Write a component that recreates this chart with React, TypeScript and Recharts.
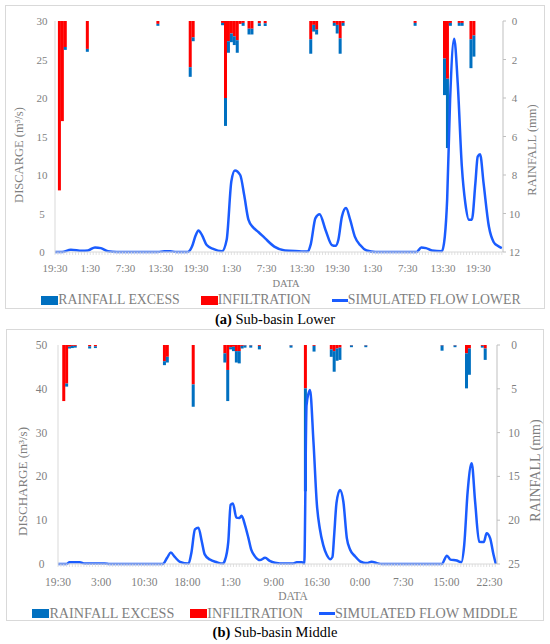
import React from 'react';
import { ComposedChart, Bar, Line, XAxis, YAxis, Legend } from 'recharts';

const FONT = '"Palatino Linotype", "Book Antiqua", Palatino, "Liberation Serif", serif';
const TEXT_GRAY = '#7f7f7f';
const AXIS_GRAY = '#d9d9d9';
const RED = '#ff0000';
const BAR_BLUE = '#0070c0';
const LINE_BLUE = '#1a5cff';

// time is in hours after 19:30 of the first day
const lowerTimeLabels = ['19:30', '1:30', '7:30', '13:30', '19:30', '1:30', '7:30', '13:30', '19:30', '1:30', '7:30', '13:30', '19:30'];
const lowerQTicks = [0, 5, 10, 15, 20, 25, 30];
const lowerRTicks = [0, 2, 4, 6, 8, 10, 12];

const lowerFlow = [
  { t: 0, q: 0 }, { t: 1.2, q: 0 }, { t: 2.7, q: 0.3 }, { t: 4.6, q: 0.15 }, { t: 5.6, q: 0.2 },
  { t: 6.8, q: 0.6 }, { t: 7.8, q: 0.5 }, { t: 9, q: 0.1 }, { t: 10.5, q: 0 }, { t: 17.5, q: 0 },
  { t: 18.6, q: 0.1 }, { t: 19.6, q: 0.1 }, { t: 20.6, q: 0 }, { t: 22.6, q: 0 }, { t: 23.3, q: 0.7 },
  { t: 23.9, q: 2.1 }, { t: 24.4, q: 2.8 }, { t: 25.0, q: 2.2 }, { t: 25.8, q: 0.9 }, { t: 26.9, q: 0.4 },
  { t: 28.4, q: 0.1 }, { t: 29.2, q: 1.6 }, { t: 30.0, q: 9.2 }, { t: 30.6, q: 10.6 }, { t: 31.5, q: 10.0 },
  { t: 32.2, q: 7.3 }, { t: 32.9, q: 4.2 }, { t: 33.7, q: 3.2 }, { t: 34.6, q: 2.6 }, { t: 35.7, q: 1.8 },
  { t: 37.3, q: 0.7 }, { t: 39.1, q: 0.2 }, { t: 41.5, q: 0.1 }, { t: 43.0, q: 0.05 }, { t: 43.5, q: 1.0 },
  { t: 44.3, q: 4.4 }, { t: 45.0, q: 4.9 }, { t: 46.0, q: 2.9 }, { t: 47.1, q: 0.9 }, { t: 47.7, q: 0.8 },
  { t: 48.2, q: 1.6 }, { t: 48.8, q: 4.6 }, { t: 49.5, q: 5.7 }, { t: 50.2, q: 4.2 }, { t: 51.0, q: 2.0 },
  { t: 51.9, q: 0.9 }, { t: 53.0, q: 0.2 }, { t: 54.5, q: 0 }, { t: 61.5, q: 0 }, { t: 62.3, q: 0.6 },
  { t: 63.1, q: 0.5 }, { t: 64.1, q: 0.2 }, { t: 65.8, q: 0.1 }, { t: 66.3, q: 2.0 }, { t: 66.7, q: 6.8 },
  { t: 67.2, q: 19.7 }, { t: 67.9, q: 27.7 }, { t: 68.5, q: 21.9 }, { t: 69.2, q: 11.1 }, { t: 69.8, q: 6.3 },
  { t: 70.4, q: 4.2 }, { t: 70.9, q: 4.2 }, { t: 71.5, q: 8.9 }, { t: 71.9, q: 12.4 }, { t: 72.3, q: 12.7 },
  { t: 72.9, q: 8.9 }, { t: 73.8, q: 3.3 }, { t: 74.6, q: 1.3 }, { t: 75.3, q: 0.8 }, { t: 76.0, q: 0.5 },
];

// rainfall split into infiltration (inf) and excess (exc), mm per half hour
const lowerRain = [
  { t: 0.75, inf: 8.8, exc: 0 }, { t: 1.25, inf: 5.2, exc: 0 }, { t: 1.75, inf: 1.35, exc: 0.15 },
  { t: 5.5, inf: 1.45, exc: 0.15 }, { t: 17.5, inf: 0.15, exc: 0.1 },
  { t: 23.0, inf: 2.4, exc: 0.5 }, { t: 23.5, inf: 0.85, exc: 0.2 },
  { t: 28.5, inf: 0.1, exc: 0.12 }, { t: 29.0, inf: 4.0, exc: 1.45 }, { t: 29.5, inf: 1.05, exc: 0.6 },
  { t: 30.0, inf: 0.65, exc: 0.45 }, { t: 30.5, inf: 0.8, exc: 0.45 }, { t: 31.0, inf: 1.0, exc: 0.65 },
  { t: 31.5, inf: 0.15, exc: 0 }, { t: 32.0, inf: 0.1, exc: 0.15 },
  { t: 33.0, inf: 0.4, exc: 0.3 }, { t: 33.5, inf: 0.4, exc: 0.3 },
  { t: 34.75, inf: 0.12, exc: 0.14 }, { t: 35.75, inf: 0.12, exc: 0.14 },
  { t: 43.5, inf: 0.95, exc: 0.75 }, { t: 44.0, inf: 0.2, exc: 0.35 }, { t: 44.5, inf: 0.45, exc: 0.25 },
  { t: 47.5, inf: 0.1, exc: 0.15 }, { t: 48.0, inf: 0.2, exc: 0.45 }, { t: 48.5, inf: 0.9, exc: 0.8 },
  { t: 49.0, inf: 0.1, exc: 0.15 }, { t: 61.25, inf: 0.1, exc: 0.15 },
  { t: 66.25, inf: 1.95, exc: 1.9 }, { t: 66.75, inf: 3.0, exc: 3.6 }, { t: 67.25, inf: 0.1, exc: 0.15 },
  { t: 68.75, inf: 0.1, exc: 0.15 }, { t: 69.25, inf: 0.1, exc: 0.15 },
  { t: 70.75, inf: 0.95, exc: 1.5 }, { t: 71.25, inf: 0.75, exc: 1.1 },
];

const middleTimeLabels = ['19:30', '3:00', '10:30', '18:00', '1:30', '9:00', '16:30', '0:00', '7:30', '15:00', '22:30'];
const middleQTicks = [0, 5, 10, 15, 20, 25, 30, 35, 40, 45, 50];
const middleRTicks = [0, 5, 10, 15, 20, 25];

const middleFlow = [
  { t: 0, q: 0 }, { t: 1.5, q: 0 }, { t: 2.0, q: 0.4 }, { t: 3.8, q: 0.4 }, { t: 4.6, q: 0.1 },
  { t: 8.1, q: 0.1 }, { t: 9.0, q: 0 }, { t: 18.2, q: 0 }, { t: 19.0, q: 1.5 }, { t: 19.6, q: 2.6 },
  { t: 20.3, q: 1.6 }, { t: 21.2, q: 0.5 }, { t: 22.7, q: 0.1 }, { t: 23.2, q: 2.7 }, { t: 23.8, q: 7.9 },
  { t: 24.4, q: 8.3 }, { t: 25.0, q: 5.1 }, { t: 25.5, q: 2.2 }, { t: 26.4, q: 1.0 }, { t: 27.6, q: 0.4 },
  { t: 28.6, q: 0.1 }, { t: 29.0, q: 0.8 }, { t: 29.6, q: 5.1 }, { t: 30.0, q: 13.5 }, { t: 30.4, q: 13.8 },
  { t: 31.0, q: 10.6 }, { t: 31.5, q: 10.5 }, { t: 31.9, q: 11.0 }, { t: 32.5, q: 8.9 }, { t: 33.1, q: 5.9 },
  { t: 33.6, q: 3.2 }, { t: 34.2, q: 1.8 }, { t: 35.1, q: 0.9 }, { t: 36.0, q: 1.4 }, { t: 36.8, q: 0.7 },
  { t: 37.7, q: 0.3 }, { t: 39.4, q: 0.1 }, { t: 40.9, q: 0.1 }, { t: 41.5, q: 0.4 }, { t: 42.4, q: 0.4 },
  { t: 42.8, q: 0.1 }, { t: 43.2, q: 36.3 }, { t: 43.8, q: 39.7 }, { t: 44.4, q: 27.9 }, { t: 45.0, q: 13.5 },
  { t: 45.5, q: 8.1 }, { t: 46.1, q: 4.3 }, { t: 46.7, q: 2.1 }, { t: 47.3, q: 1.1 }, { t: 47.7, q: 1.6 },
  { t: 48.0, q: 6.6 }, { t: 48.4, q: 13.9 }, { t: 49.0, q: 16.9 }, { t: 49.6, q: 14.2 }, { t: 50.2, q: 5.9 },
  { t: 50.8, q: 3.2 }, { t: 51.6, q: 1.8 }, { t: 52.5, q: 0.6 }, { t: 53.1, q: 0.3 }, { t: 53.7, q: 0.2 },
  { t: 54.5, q: 0.5 }, { t: 55.4, q: 0.2 }, { t: 56.3, q: 0 }, { t: 66.7, q: 0 }, { t: 67.6, q: 1.9 },
  { t: 68.2, q: 1.0 }, { t: 69.3, q: 0.8 }, { t: 70.1, q: 0.4 }, { t: 70.6, q: 4.3 }, { t: 71.2, q: 16.5 },
  { t: 71.9, q: 23.0 }, { t: 72.5, q: 14.2 }, { t: 73.2, q: 5.1 }, { t: 74.0, q: 5.0 }, { t: 74.5, q: 7.0 },
  { t: 75.1, q: 5.9 }, { t: 75.7, q: 2.1 }, { t: 76.1, q: 0 },
];

const middleRain = [
  { t: 1.0, inf: 6.4, exc: 0 }, { t: 1.5, inf: 4.4, exc: 0.35 }, { t: 2.0, inf: 0.2, exc: 0.2 },
  { t: 2.5, inf: 0.1, exc: 0.25 }, { t: 3.0, inf: 0.1, exc: 0.2 },
  { t: 5.5, inf: 0.15, exc: 0.25 }, { t: 6.5, inf: 0.15, exc: 0.2 },
  { t: 18.5, inf: 1.85, exc: 0.45 }, { t: 19.0, inf: 1.35, exc: 0.65 },
  { t: 23.5, inf: 4.5, exc: 2.55 },
  { t: 29.0, inf: 0.95, exc: 1.05 }, { t: 29.5, inf: 2.85, exc: 3.55 }, { t: 30.0, inf: 0.25, exc: 0.25 },
  { t: 30.5, inf: 0.2, exc: 0.5 }, { t: 31.0, inf: 0.7, exc: 1.3 }, { t: 31.5, inf: 0.7, exc: 1.4 },
  { t: 32.0, inf: 0.1, exc: 0.3 }, { t: 32.5, inf: 0.05, exc: 0.25 }, { t: 33.5, inf: 0.05, exc: 0.25 },
  { t: 35.0, inf: 0.1, exc: 0.4 }, { t: 40.5, inf: 0.05, exc: 0.25 },
  { t: 43.0, inf: 4.95, exc: 11.75 }, { t: 44.5, inf: 0.1, exc: 0.65 },
  { t: 47.5, inf: 0.5, exc: 0.85 }, { t: 48.0, inf: 0.7, exc: 2.35 }, { t: 48.5, inf: 0.4, exc: 1.4 },
  { t: 49.0, inf: 0.3, exc: 1.4 }, { t: 51.0, inf: 0.05, exc: 0.2 }, { t: 53.5, inf: 0.05, exc: 0.2 },
  { t: 66.75, inf: 0.05, exc: 0.6 }, { t: 69.0, inf: 0.05, exc: 0.2 },
  { t: 71.0, inf: 0.95, exc: 4.0 }, { t: 71.5, inf: 0.4, exc: 3.0 },
  { t: 73.75, inf: 0.1, exc: 0.2 }, { t: 74.25, inf: 0.4, exc: 1.3 },
];

const VTitle = (props: any) => {
  const { viewBox, caption, tx, ty, fs } = props;
  const cx = viewBox.x + tx;
  const cy = viewBox.y + viewBox.height / 2 + ty;
  return (
    <text x={cx} y={cy} transform={`rotate(-90 ${cx} ${cy})`} textAnchor="middle" dominantBaseline="central"
      fill={TEXT_GRAY} fontSize={fs} fontFamily={FONT}>{caption}</text>
  );
};

const HTitle = (props: any) => {
  const { viewBox, caption, tx, ty, fs } = props;
  return (
    <text x={viewBox.x + viewBox.width / 2 + tx} y={viewBox.y + ty} textAnchor="middle" dominantBaseline="central"
      fill={TEXT_GRAY} fontSize={fs} fontFamily={FONT}>{caption}</text>
  );
};

const makeXTick = (labels: string[], step: number, dy: number, fs: number) => (props: any) => {
  const { x, y, payload } = props;
  const k = payload.value / step;
  const label = Math.abs(k - Math.round(k)) < 1e-6 ? labels[Math.round(k)] : undefined;
  return (
    <g>
      <line x1={x} y1={y} x2={x} y2={y + 3} stroke={AXIS_GRAY} strokeWidth={0.8} />
      {label !== undefined && (
        <text x={x} y={y + dy} textAnchor="middle" dominantBaseline="central" fill={TEXT_GRAY} fontSize={fs} fontFamily={FONT}>{label}</text>
      )}
    </g>
  );
};

const makeYTick = (dx: number, fs: number, mark: boolean) => (props: any) => {
  const { x, y, payload } = props;
  return (
    <g>
      {mark && <line x1={x} y1={y} x2={x + 3} y2={y} stroke="#bfbfbf" />}
      <text x={x + dx} y={y} textAnchor="middle" dominantBaseline="central" fill={TEXT_GRAY} fontSize={fs} fontFamily={FONT}>{payload.value}</text>
    </g>
  );
};

// half-hour bars: keep the scale's centre and height, draw them 3px wide
const RainBar = (props: any) => {
  const { x, y, width, height, fill } = props;
  if (!height || Math.abs(height) < 0.01) return null;
  const top = height < 0 ? y + height : y;
  return <rect x={x + width / 2 - 1.5} y={top} width={3} height={Math.abs(height)} fill={fill} />;
};

const LegendRow = ({ flowName, fs, gap, shift }: any) => {
  const items = [
    { name: 'RAINFALL EXCESS', color: BAR_BLUE, line: false },
    { name: 'INFILTRATION', color: RED, line: false },
    { name: flowName, color: LINE_BLUE, line: true },
  ];
  return (
    <div style={{ display: 'flex', justifyContent: 'center', alignItems: 'center', height: 14, paddingLeft: shift, fontFamily: FONT, fontSize: fs, color: TEXT_GRAY, whiteSpace: 'nowrap', lineHeight: '14px' }}>
      {items.map((it, i) => (
        <div key={it.name} style={{ display: 'flex', alignItems: 'center', marginLeft: i === 0 ? 0 : gap }}>
          {it.line
            ? <span style={{ display: 'inline-block', width: 16, height: 3, background: it.color }} />
            : <span style={{ display: 'inline-block', width: 17, height: 9, background: it.color }} />}
          <span>{it.name}</span>
        </div>
      ))}
    </div>
  );
};

const Panel = (p: any) => {
  const minorTicks = Array.from({ length: Math.floor(p.xMax * 2) + 1 }, (_, i) => i / 2);
  return (
    <ComposedChart width={p.width} height={p.height} data={p.rain}
      margin={{ top: 15, right: 0, left: 0, bottom: p.bottom }}>
      <XAxis type="number" dataKey="t" domain={[0, p.xMax]} ticks={minorTicks} interval={0}
        allowDataOverflow tickLine={false} tickSize={0} tickMargin={0} height={p.xAxisH}
        axisLine={{ stroke: AXIS_GRAY }} tick={makeXTick(p.timeLabels, p.labelStep, p.xTickDy, p.tickFs)}
        label={<HTitle caption="DATA" tx={p.dataTx} ty={p.dataTy} fs={p.dataFs} />} />
      <YAxis yAxisId="q" orientation="left" domain={[0, p.qTicks[p.qTicks.length - 1]]} ticks={p.qTicks}
        width={p.leftW} tickLine={false} tickSize={0} tickMargin={0} axisLine={{ stroke: AXIS_GRAY }}
        tick={makeYTick(p.leftTickDx, p.tickFs, false)}
        label={<VTitle caption={p.qTitle} tx={p.qTitleTx} ty={p.qTitleTy} fs={p.qTitleFs} />} />
      <YAxis yAxisId="r" orientation="right" reversed domain={[0, p.rTicks[p.rTicks.length - 1]]} ticks={p.rTicks}
        width={p.rightW} tickLine={false} tickSize={0} tickMargin={0} axisLine={{ stroke: '#bfbfbf' }}
        tick={makeYTick(p.rightTickDx, p.tickFs, true)}
        label={<VTitle caption="RAINFALL (mm)" tx={p.rTitleTx} ty={p.rTitleTy} fs={p.rTitleFs} />} />
      <Bar yAxisId="r" dataKey="inf" name="INFILTRATION" stackId="rain" fill={RED} shape={RainBar} isAnimationActive={false} />
      <Bar yAxisId="r" dataKey="exc" name="RAINFALL EXCESS" stackId="rain" fill={BAR_BLUE} shape={RainBar} isAnimationActive={false} />
      <Line yAxisId="q" data={p.flow} dataKey="q" name={p.flowName} type="monotone" stroke={LINE_BLUE}
        strokeWidth={2.5} dot={false} activeDot={false} isAnimationActive={false} />
      <Legend verticalAlign="bottom"
        content={() => <LegendRow flowName={p.flowName} fs={p.legendFs} gap={p.legendGap} shift={p.legendShift} />} />
    </ComposedChart>
  );
};

const boxStyle = (left: number, top: number, width: number, height: number): React.CSSProperties => ({
  position: 'absolute', left, top, width, height, boxSizing: 'border-box', border: `1px solid ${AXIS_GRAY}`, background: '#fff',
});

const captionStyle = (top: number): React.CSSProperties => ({
  position: 'absolute', left: 0, top, width: 550, textAlign: 'center', fontFamily: FONT, fontSize: 14.5, color: '#000', lineHeight: '16px',
});

export default function App() {
  return (
    <div style={{ position: 'absolute', left: 0, top: 0, width: 550, height: 644, background: '#fff' }}>
      <div style={boxStyle(5, 5, 540, 304)}>
        <Panel width={538} height={302} rain={lowerRain} flow={lowerFlow} timeLabels={lowerTimeLabels}
          labelStep={6} xMax={76.2} qTicks={lowerQTicks} rTicks={lowerRTicks}
          qTitle="DISCARGE (m³/s)" flowName="SIMULATED FLOW LOWER"
          leftW={49} rightW={41} xAxisH={41} bottom={1}
          xTickDy={15.5} tickFs={11} leftTickDx={-13} rightTickDx={11.5}
          dataTx={7} dataTy={31} dataFs={10.5}
          qTitleTx={13} qTitleTy={18.5} qTitleFs={12.5}
          rTitleTx={29} rTitleTy={13.5} rTitleFs={12.5}
          legendFs={13.8} legendGap={21} legendShift={12} />
      </div>
      <div style={captionStyle(311)}><b>(a)</b> Sub-basin Lower</div>
      <div style={boxStyle(6, 329, 538, 292)}>
        <Panel width={536} height={290} rain={middleRain} flow={middleFlow} timeLabels={middleTimeLabels}
          labelStep={7.5} xMax={76.3} qTicks={middleQTicks} rTicks={middleRTicks}
          qTitle="DISCHARGE (m³/s)" flowName="SIMULATED FLOW MIDDLE"
          leftW={51} rightW={46} xAxisH={42} bottom={0}
          xTickDy={17.7} tickFs={11.5} leftTickDx={-16.5} rightTickDx={17}
          dataTx={15.5} dataTy={31.5} dataFs={11.5}
          qTitleTx={15.5} qTitleTy={27} qTitleFs={13}
          rTitleTx={38} rTitleTy={16} rTitleFs={14}
          legendFs={14.2} legendGap={16} legendShift={0} />
      </div>
      <div style={captionStyle(624)}><b>(b)</b> Sub-basin Middle</div>
    </div>
  );
}
